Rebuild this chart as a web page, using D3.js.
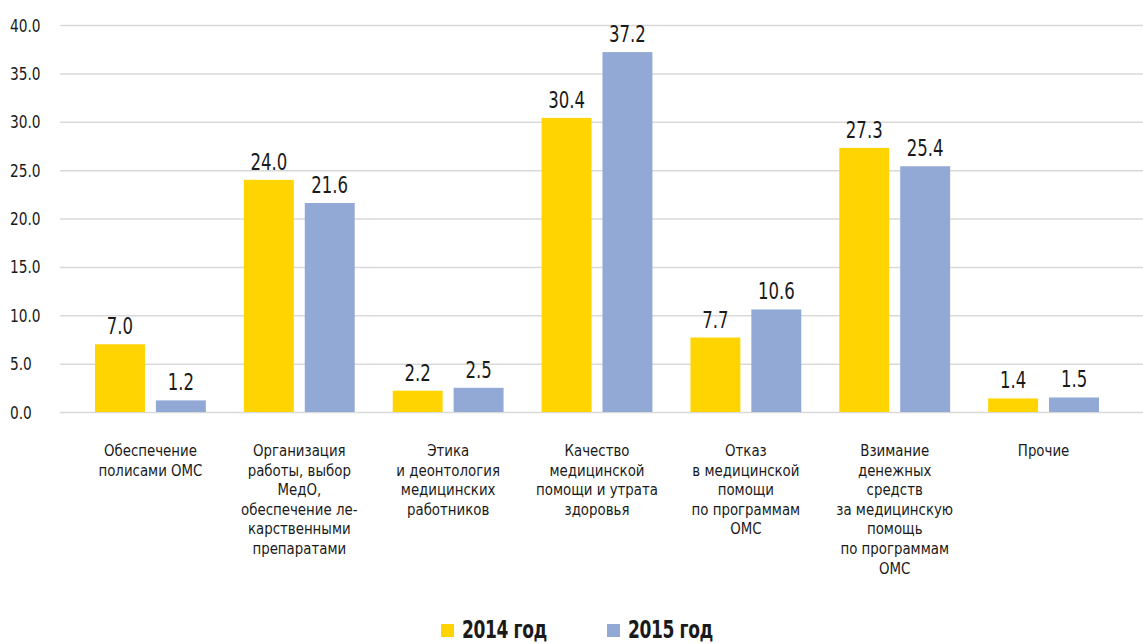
<!DOCTYPE html>
<html>
<head>
<meta charset="utf-8">
<script src="https://cdn.jsdelivr.net/npm/d3@7"></script>
<style>
	body { margin: 0; background: #fff; }
	svg text { font-family: "DejaVu Sans Condensed", "Liberation Sans Narrow", sans-serif; font-stretch: condensed; fill: #1a1a1a; }
</style>
</head>
<body>
<svg id="chart" width="1143" height="644"></svg>
<script>
var categories = [
	["Обеспечение", "полисами ОМС"],
	["Организация", "работы, выбор", "МедО,", "обеспечение ле-", "карственными", "препаратами"],
	["Этика", "и деонтология", "медицинских", "работников"],
	["Качество", "медицинской", "помощи и утрата", "здоровья"],
	["Отказ", "в медицинской", "помощи", "по программам", "ОМС"],
	["Взимание", "денежных", "средств", "за медицинскую", "помощь", "по программам", "ОМС"],
	["Прочие"]
]
var series = ["2014 год", "2015 год"]
var values2014 = [7.0, 24.0, 2.2, 30.4, 7.7, 27.3, 1.4]
var values2015 = [1.2, 21.6, 2.5, 37.2, 10.6, 25.4, 1.5]
var yTicks = [0, 5, 10, 15, 20, 25, 30, 35, 40]
var colors = ["#ffd400", "#92a9d6"]

var svg = d3.select("#chart")

var x = d3.scaleBand()
	.domain(d3.range(categories.length))
	.range([76, 1118])

var x1 = d3.scaleBand()
	.domain([0, 1])
	.range([19, x.bandwidth() - 19])
	.paddingInner(0.18)

var y = d3.scaleLinear()
	.domain([0, 40])
	.range([412, 25])

// grid + tick labels
var yAxis = d3.axisLeft(y)
	.tickValues(yTicks)
	.tickSize(-1083)
	.tickFormat(d3.format(".1f"))

var ga = svg.append("g")
	.attr("transform", "translate(60,0)")
	.call(yAxis)
ga.select(".domain").remove()
ga.selectAll(".tick line").attr("stroke", "#d9d9d9").attr("stroke-width", 1.5)
ga.selectAll(".tick text")
	.attr("x", null)
	.attr("dy", null)
	.attr("text-anchor", "start")
	.attr("transform", "translate(-50,6) scale(0.85,1)")
	.style("font-size", "18px")
	.style("font-family", null)
	.style("fill", "#1a1a1a")

var data = [values2014, values2015]

var groups = svg.append("g").selectAll("g")
	.data(categories)
	.join("g")
	.attr("transform", function(d, i) { return "translate(" + x(i) + ",0)" })

groups.selectAll("rect")
	.data(function(d, i) { return data.map(function(s) { return s[i] }) })
	.join("rect")
	.attr("x", function(d, j) { return x1(j) })
	.attr("width", x1.bandwidth())
	.attr("y", function(d) { return y(d) })
	.attr("height", function(d) { return y(0) - y(d) })
	.attr("fill", function(d, j) { return colors[j] })

groups.selectAll("text.val")
	.data(function(d, i) { return data.map(function(s) { return s[i] }) })
	.join("text")
	.attr("class", "val")
	.attr("transform", function(d, j) {
		return "translate(" + (x1(j) + x1.bandwidth() / 2) + "," + (y(d) - 10) + ") scale(0.8,1)"
	})
	.attr("text-anchor", "middle")
	.style("font-size", "23px")
	.text(function(d) { return d3.format(".1f")(d) })

// category labels
groups.append("text")
	.attr("transform", "translate(" + (x.bandwidth() / 2) + ",456) scale(0.9,1)")
	.attr("text-anchor", "middle")
	.style("font-size", "16.5px")
	.selectAll("tspan")
	.data(function(d) { return d })
	.join("tspan")
	.attr("x", 0)
	.attr("dy", function(d, i) { return i == 0 ? 0 : 19.6 })
	.text(function(d) { return d })

// legend
var legendX = [441, 607]
var lg = svg.append("g").selectAll("g")
	.data(series)
	.join("g")
	.attr("transform", function(d, i) { return "translate(" + legendX[i] + ",624)" })
lg.append("rect")
	.attr("width", 13)
	.attr("height", 13)
	.attr("fill", function(d, i) { return colors[i] })
lg.append("text")
	.attr("transform", "translate(21,14) scale(0.76,1)")
	.style("font-size", "25px")
	.style("font-weight", "bold")
	.style("letter-spacing", "-0.5px")
	.text(function(d) { return d })
</script>
</body>
</html>
